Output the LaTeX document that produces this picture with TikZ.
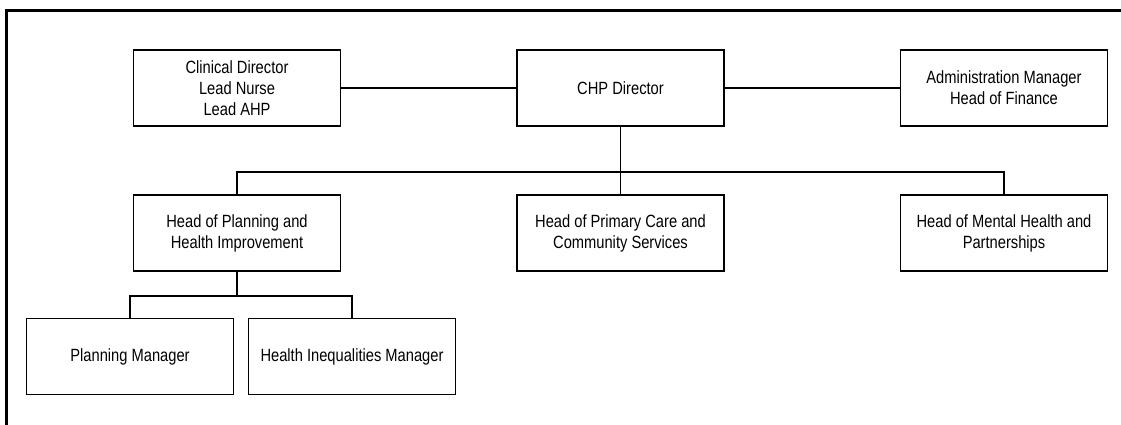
\documentclass[tikz,border=0pt]{standalone}
\usepackage{fontspec}
\setmainfont{Liberation Sans}[FakeStretch=0.83]
\tikzset{
  post/.style={draw, line width=1.2pt, minimum width=207pt, minimum height=76pt, inner sep=0pt, align=center, font=\fontsize{17.7}{21}\selectfont},
  link/.style={line width=1.2pt}
}
\begin{document}
\begin{tikzpicture}[x=1pt,y=-1pt]
\useasboundingbox (0,0) rectangle (1121,425);

\draw [line width=3pt] (6.5,425) -- (6.5,10.5) -- (1121,10.5);

\node (clin) at (237,88) [post] {Clinical Director\\Lead Nurse\\Lead AHP};
\node (chp) at (620.5,88) [post] {CHP Director};
\node (admin) at (1004,88) [post] {Administration Manager\\Head of Finance};
\node (plan) at (237,233) [post] {Head of Planning and\\Health Improvement};
\node (prim) at (620.5,233) [post] {Head of Primary Care and\\Community Services};
\node (mental) at (1004,233) [post] {Head of Mental Health and\\Partnerships};
\node (pmgr) at (130,356.5) [post] {Planning Manager};
\node (himgr) at (352,356.5) [post] {Health Inequalities Manager};
\coordinate (bus) at (620.5,172);
\coordinate (subbus) at (237,296);

\draw [link] (clin) -- (chp);
\draw [link] (chp) -- (admin);
\draw [link] (chp) -- (prim);
\draw [link] (plan.north) -- (plan.north |- bus) -- (mental.north |- bus) -- (mental.north);
\draw [link] (plan.south) -- (subbus);
\draw [link] (pmgr.north) -- (pmgr.north |- subbus) -- (himgr.north |- subbus) -- (himgr.north);
\end{tikzpicture}
\end{document}
